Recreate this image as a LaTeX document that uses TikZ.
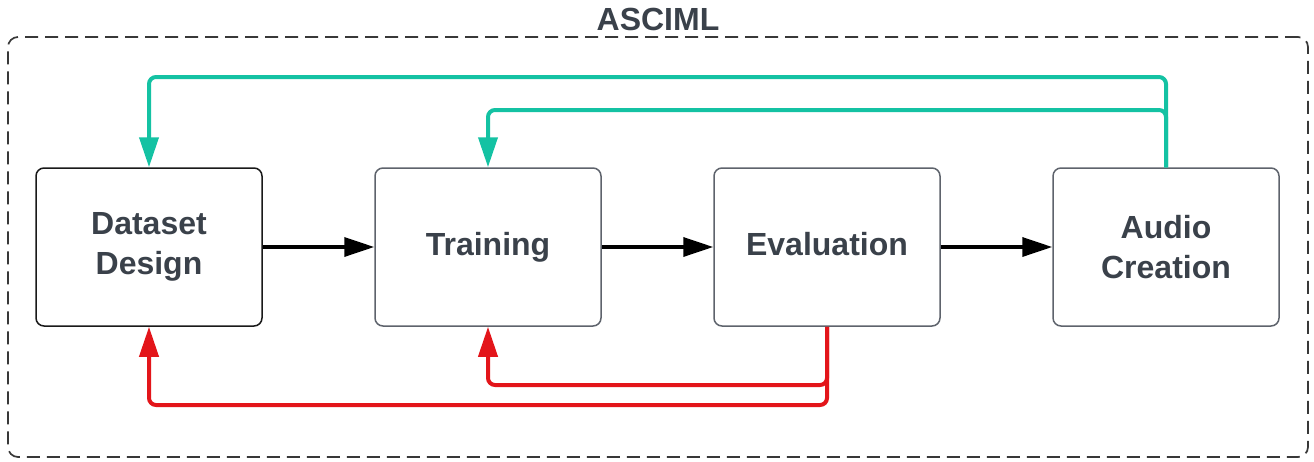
\documentclass[tikz,border=0pt]{standalone}
\usepackage{fontspec}
\setmainfont{Liberation Sans}
\usetikzlibrary{arrows.meta}
\definecolor{txt}{HTML}{3A414A}
\definecolor{boxgray}{HTML}{5E636C}
\definecolor{tealc}{HTML}{14C2A3}
\definecolor{redc}{HTML}{E3151A}
\tikzset{
  stage/.style={draw=boxgray, line width=1.5pt, rounded corners=8pt, minimum width=226pt, minimum height=158pt, inner sep=0pt, align=center, font=\fontsize{32}{40}\selectfont\bfseries, text=txt},
  fwd/.style={line width=3.5pt, -{Triangle[length=30pt,width=19pt]}},
  back/.style={line width=4pt, rounded corners=7pt, -{Triangle[length=30pt,width=19pt]}},
}
\begin{document}
\begin{tikzpicture}[x=1pt,y=-1pt]
\useasboundingbox (0,0) rectangle (1314,461);
\node[draw=black!78, line width=1.7pt, dash pattern=on 13pt off 7pt, rounded corners=10pt, minimum width=1300pt, minimum height=420pt, inner sep=0pt] (frame) at (658,247) {};
\node[font=\fontsize{32}{40}\selectfont\bfseries, text=txt] (title) at (658,19) {ASCIML};
\node[stage, draw=black!90] (ds) at (149,247) {Dataset\\Design};
\node[stage] (tr) at (488,247) {Training};
\node[stage] (ev) at (827,247) {Evaluation\vphantom{g}};
\node[stage] (au) at (1166,247) {Audio\\Creation};
\coordinate (t1) at (0,77);
\coordinate (t2) at (0,110);
\coordinate (r1) at (0,385);
\coordinate (r2) at (0,405);
\draw[fwd] (ds) -- (tr);
\draw[fwd] (tr) -- (ev);
\draw[fwd] (ev) -- (au);
\draw[back, tealc] (au.north) -- (au.north |- t1) -| (ds.north);
\draw[back, tealc] (au.north) -- (au.north |- t2) -| (tr.north);
\draw[back, redc] (ev.south) -- (ev.south |- r2) -| (ds.south);
\draw[back, redc] (ev.south) -- (ev.south |- r1) -| (tr.south);
\end{tikzpicture}
\end{document}
